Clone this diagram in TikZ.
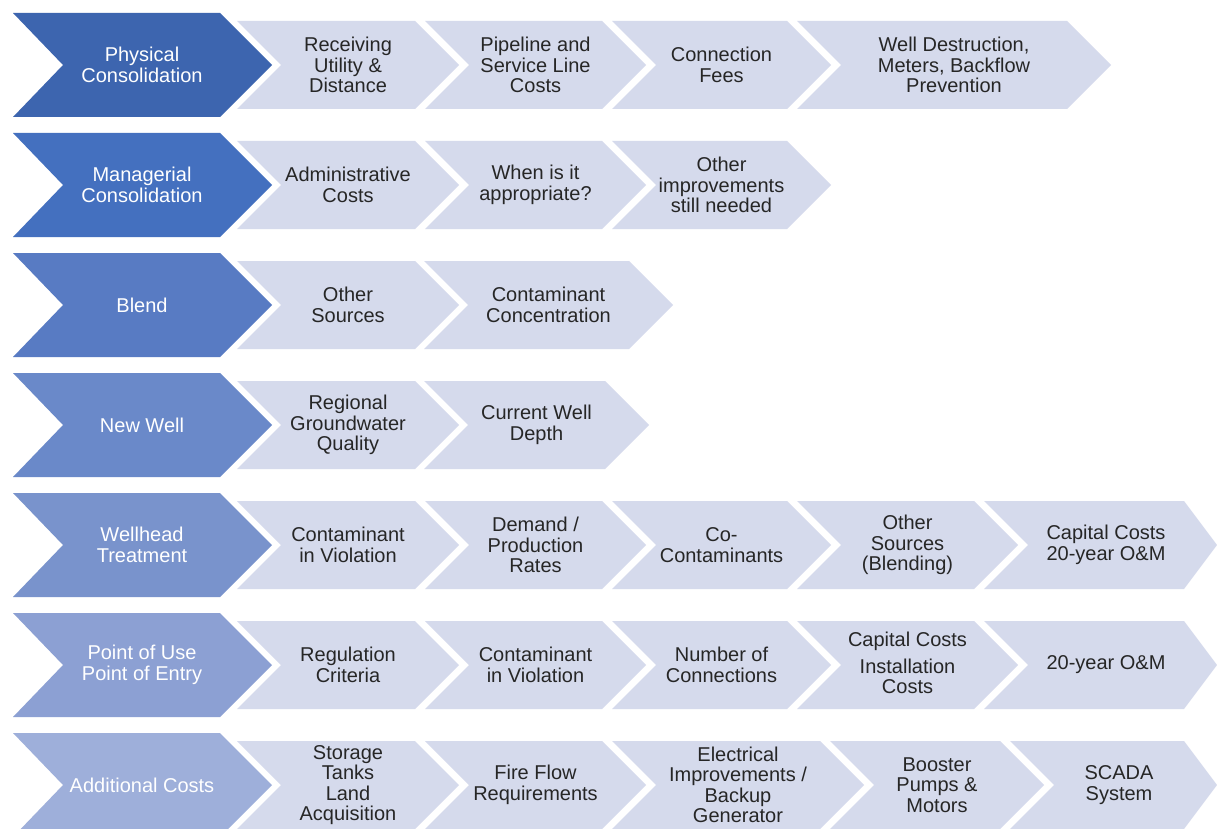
\documentclass[tikz,border=0pt]{standalone}
\usepackage{fontspec}
\setmainfont{Liberation Sans}
\definecolor{rowa}{HTML}{3D65AF}
\definecolor{rowb}{HTML}{4470BF}
\definecolor{rowc}{HTML}{587BC3}
\definecolor{rowd}{HTML}{6A89C9}
\definecolor{rowe}{HTML}{7993CC}
\definecolor{rowf}{HTML}{8CA0D3}
\definecolor{rowg}{HTML}{9EAFDA}
\definecolor{lite}{HTML}{D5DAEC}
\begin{document}
\begin{tikzpicture}[x=1pt,y=-1pt,
  head/.style={align=center, text=white, font=\fontsize{20}{20.5}\selectfont},
  item/.style={align=center, text=black!85, font=\fontsize{20}{20.5}\selectfont},
  chev/.style={fill=lite}]
\fill[white] (0,0) rectangle (1217,829);
\useasboundingbox (0,0) rectangle (1217,829);
% Physical Consolidation
\fill[rowa] (13,13) -- (220,13) -- (272,65) -- (220,117) -- (13,117) -- (63,65) -- cycle;
\node [head] (phys) at (142,65) {Physical\\Consolidation};
\fill[chev] (237,21) -- (415,21) -- (459,65) -- (415,109) -- (237,109) -- (281,65) -- cycle;
\node [item] (physa) at (348,65) {Receiving\\Utility \&\\Distance};
\fill[chev] (425,21) -- (602,21) -- (646,65) -- (602,109) -- (425,109) -- (469,65) -- cycle;
\node [item] (physb) at (535.5,65) {Pipeline and\\Service Line\\Costs};
\fill[chev] (612,21) -- (787,21) -- (831,65) -- (787,109) -- (612,109) -- (656,65) -- cycle;
\node [item] (physc) at (721.5,65) {Connection\\Fees};
\fill[chev] (797,21) -- (1067,21) -- (1111,65) -- (1067,109) -- (797,109) -- (841,65) -- cycle;
\node [item] (physd) at (954,65) {Well Destruction,\\Meters, Backflow\\Prevention};
% Managerial Consolidation
\fill[rowb] (13,133) -- (220,133) -- (272,185) -- (220,237) -- (13,237) -- (63,185) -- cycle;
\node [head] (mgr) at (142,185) {Managerial\\Consolidation};
\fill[chev] (237,141) -- (415,141) -- (459,185) -- (415,229) -- (237,229) -- (281,185) -- cycle;
\node [item] (mgra) at (348,185) {Administrative\\Costs};
\fill[chev] (425,141) -- (602,141) -- (646,185) -- (602,229) -- (425,229) -- (469,185) -- cycle;
\node [item] (mgrb) at (535.5,185) {When is it\\appropriate?};
\fill[chev] (612,141) -- (787,141) -- (831,185) -- (787,229) -- (612,229) -- (656,185) -- cycle;
\node [item] (mgrc) at (721.5,185) {Other\\improvements\\still needed};
% Blend
\fill[rowc] (13,253) -- (220,253) -- (272,305) -- (220,357) -- (13,357) -- (63,305) -- cycle;
\node [head] (blend) at (142,305) {Blend};
\fill[chev] (237,261) -- (415,261) -- (459,305) -- (415,349) -- (237,349) -- (281,305) -- cycle;
\node [item] (blenda) at (348,305) {Other\\Sources};
\fill[chev] (424,261) -- (629,261) -- (673,305) -- (629,349) -- (424,349) -- (468,305) -- cycle;
\node [item] (blendb) at (548.5,305) {Contaminant\\Concentration};
% New Well
\fill[rowd] (13,373) -- (220,373) -- (272,425) -- (220,477) -- (13,477) -- (63,425) -- cycle;
\node [head] (well) at (142,425) {New Well};
\fill[chev] (237,381) -- (415,381) -- (459,425) -- (415,469) -- (237,469) -- (281,425) -- cycle;
\node [item] (wella) at (348,425) {Regional\\Groundwater\\Quality};
\fill[chev] (424,381) -- (605,381) -- (649,425) -- (605,469) -- (424,469) -- (468,425) -- cycle;
\node [item] (wellb) at (536.5,425) {Current Well\\Depth};
% Wellhead Treatment
\fill[rowe] (13,493) -- (220,493) -- (272,545) -- (220,597) -- (13,597) -- (63,545) -- cycle;
\node [head] (wht) at (142,545) {Wellhead\\Treatment};
\fill[chev] (237,501) -- (415,501) -- (459,545) -- (415,589) -- (237,589) -- (281,545) -- cycle;
\node [item] (whta) at (348,545) {Contaminant\\in Violation};
\fill[chev] (425,501) -- (602,501) -- (646,545) -- (602,589) -- (425,589) -- (469,545) -- cycle;
\node [item] (whtb) at (535.5,545) {Demand /\\Production\\Rates};
\fill[chev] (612,501) -- (787,501) -- (831,545) -- (787,589) -- (612,589) -- (656,545) -- cycle;
\node [item] (whtc) at (721.5,545) {Co-\\Contaminants};
\fill[chev] (797,501) -- (974,501) -- (1018,545) -- (974,589) -- (797,589) -- (841,545) -- cycle;
\node [item] (whtd) at (907.5,545) {Other\\Sources\\(Blending)};
\fill[chev] (984,501) -- (1184,501) -- (1217,545) -- (1184,589) -- (984,589) -- (1028,545) -- cycle;
\node [item] (whte) at (1106,545) {Capital Costs\\20-year O\&M};
% Point of Use / Point of Entry
\fill[rowf] (13,613) -- (220,613) -- (272,665) -- (220,717) -- (13,717) -- (63,665) -- cycle;
\node [head] (pou) at (142,665) {Point of Use\\Point of Entry};
\fill[chev] (237,621) -- (415,621) -- (459,665) -- (415,709) -- (237,709) -- (281,665) -- cycle;
\node [item] (poua) at (348,665) {Regulation\\Criteria};
\fill[chev] (425,621) -- (602,621) -- (646,665) -- (602,709) -- (425,709) -- (469,665) -- cycle;
\node [item] (poub) at (535.5,665) {Contaminant\\in Violation};
\fill[chev] (612,621) -- (787,621) -- (831,665) -- (787,709) -- (612,709) -- (656,665) -- cycle;
\node [item] (pouc) at (721.5,665) {Number of\\Connections};
\fill[chev] (797,621) -- (974,621) -- (1018,665) -- (974,709) -- (797,709) -- (841,665) -- cycle;
\node [item] (poud) at (907.5,663) {Capital Costs\\[6pt]Installation\\Costs};
\fill[chev] (984,621) -- (1184,621) -- (1217,665) -- (1184,709) -- (984,709) -- (1028,665) -- cycle;
\node [item] (poue) at (1106,665) {20-year O\&M};
% Additional Costs
\fill[rowg] (13,733) -- (220,733) -- (272,785) -- (220,837) -- (13,837) -- (63,785) -- cycle;
\node [head] (add) at (142,785) {Additional Costs};
\fill[chev] (237,741) -- (415,741) -- (459,785) -- (415,829) -- (237,829) -- (281,785) -- cycle;
\node [item] (adda) at (348,785) {Storage\\Tanks\\Land\\Acquisition};
\fill[chev] (425,741) -- (602,741) -- (646,785) -- (602,829) -- (425,829) -- (469,785) -- cycle;
\node [item] (addb) at (535.5,785) {Fire Flow\\Requirements};
\fill[chev] (612,741) -- (820,741) -- (864,785) -- (820,829) -- (612,829) -- (656,785) -- cycle;
\node [item] (addc) at (738,785) {Electrical\\Improvements /\\Backup\\Generator};
\fill[chev] (830,741) -- (1000,741) -- (1044,785) -- (1000,829) -- (830,829) -- (874,785) -- cycle;
\node [item] (addd) at (937,785) {Booster\\Pumps \&\\Motors};
\fill[chev] (1010,741) -- (1184,741) -- (1217,785) -- (1184,829) -- (1010,829) -- (1054,785) -- cycle;
\node [item] (adde) at (1119,785) {SCADA\\System};
\end{tikzpicture}
\end{document}
